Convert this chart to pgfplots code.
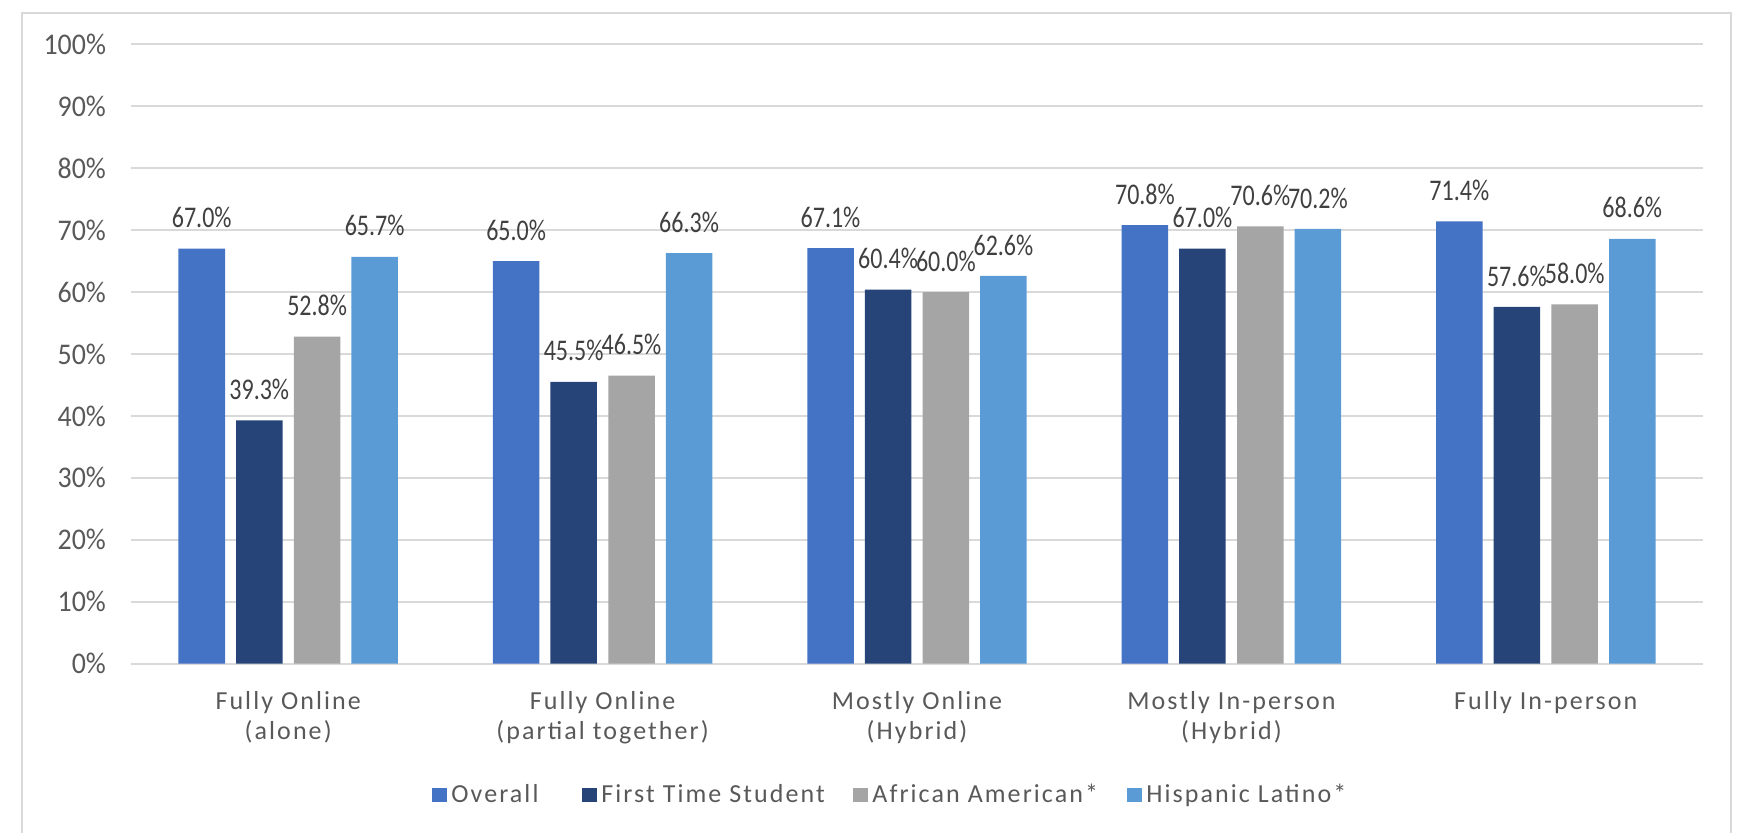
\documentclass[border=0pt]{standalone}
\usepackage{graphicx}
\usepackage{fontspec}
\setmainfont{Carlito}
\newfontfamily\catfont[LetterSpace=8]{Carlito}
\usepackage{pgfplots}
\pgfplotsset{compat=1.18}

\definecolor{cOverall}{HTML}{4472C4}
\definecolor{cFirst}{HTML}{264478}
\definecolor{cAfrican}{HTML}{A5A5A5}
\definecolor{cHispanic}{HTML}{5B9BD5}
\definecolor{gridgray}{HTML}{D9D9D9}
\definecolor{ticktext}{HTML}{595959}
\definecolor{labeltext}{HTML}{404040}

\newcommand\sx[1]{\scalebox{0.8}[1]{#1}}
\newcommand\tx[1]{\scalebox{0.93}[1]{#1}}

\begin{document}
\begin{tikzpicture}
\path[use as bounding box] (0,0) rectangle (870pt,416pt);
% chart frame (open at the bottom edge of the page)
\draw[gridgray, line width=1.3pt] (11pt,-2pt) -- (11pt,409.5pt) -- (865.5pt,409.5pt) -- (865.5pt,-2pt);
\begin{axis}[
  at={(65.5pt,84.2pt)}, anchor=south west,
  scale only axis, width=786pt, height=309.6pt,
  xmin=-0.5, xmax=4.5, ymin=0, ymax=100,
  ybar, bar width=0.148,
  axis line style={draw=none}, tick style={draw=none},
  ymajorgrids, major grid style={gridgray, line width=1pt},
  ytick={0,10,...,100},
  yticklabels={\tx{0\%},\tx{10\%},\tx{20\%},\tx{30\%},\tx{40\%},\tx{50\%},\tx{60\%},\tx{70\%},\tx{80\%},\tx{90\%},\tx{100\%}},
  yticklabel style={font=\fontsize{15}{18}\selectfont, text=ticktext, xshift=-9pt},
  xtick={0,...,4},
  xticklabels={{Fully Online\\(alone)},{Fully Online\\(partial together)},{Mostly Online\\(Hybrid)},{Mostly In-person\\(Hybrid)},{Fully In-person}},
  xticklabel style={font=\catfont\fontsize{13}{15}\selectfont, text=ticktext, align=center, yshift=-6pt},
  nodes near coords={\sx{\pgfmathprintnumber[fixed,fixed zerofill,precision=1,assume math mode=true]{\pgfplotspointmeta}\%}},
  nodes near coords style={font=\fontsize{15}{18}\selectfont, text=labeltext, anchor=center, yshift=15.5pt},
  legend columns=4,
  legend style={draw=none, fill=none, at={(0.1915,-0.212)}, anchor=west, inner sep=0pt,
    font=\catfont\fontsize{13}{15}\selectfont, text=ticktext,
    /tikz/every even column/.append style={column sep=0pt}},
  legend image code/.code={\fill[#1] (0pt,-3.5pt) rectangle (7.5pt,3.5pt);},
]
\addplot[fill=cOverall, draw=none, bar shift=-0.275] coordinates {(0,67.0) (1,65.0) (2,67.1) (3,70.8) (4,71.4)};
\addplot[fill=cFirst, draw=none, bar shift=-0.092] coordinates {(0,39.3) (1,45.5) (2,60.4) (3,67.0) (4,57.6)};
\addplot[fill=cAfrican, draw=none, bar shift=0.092] coordinates {(0,52.8) (1,46.5) (2,60.0) (3,70.6) (4,58.0)};
\addplot[fill=cHispanic, draw=none, bar shift=0.275] coordinates {(0,65.7) (1,66.3) (2,62.6) (3,70.2) (4,68.6)};
\legend{\makebox[63.5pt][l]{Overall},\makebox[124pt][l]{First Time Student},\makebox[125.5pt][l]{African American*},Hispanic Latino*}
\end{axis}
\end{tikzpicture}
\end{document}
